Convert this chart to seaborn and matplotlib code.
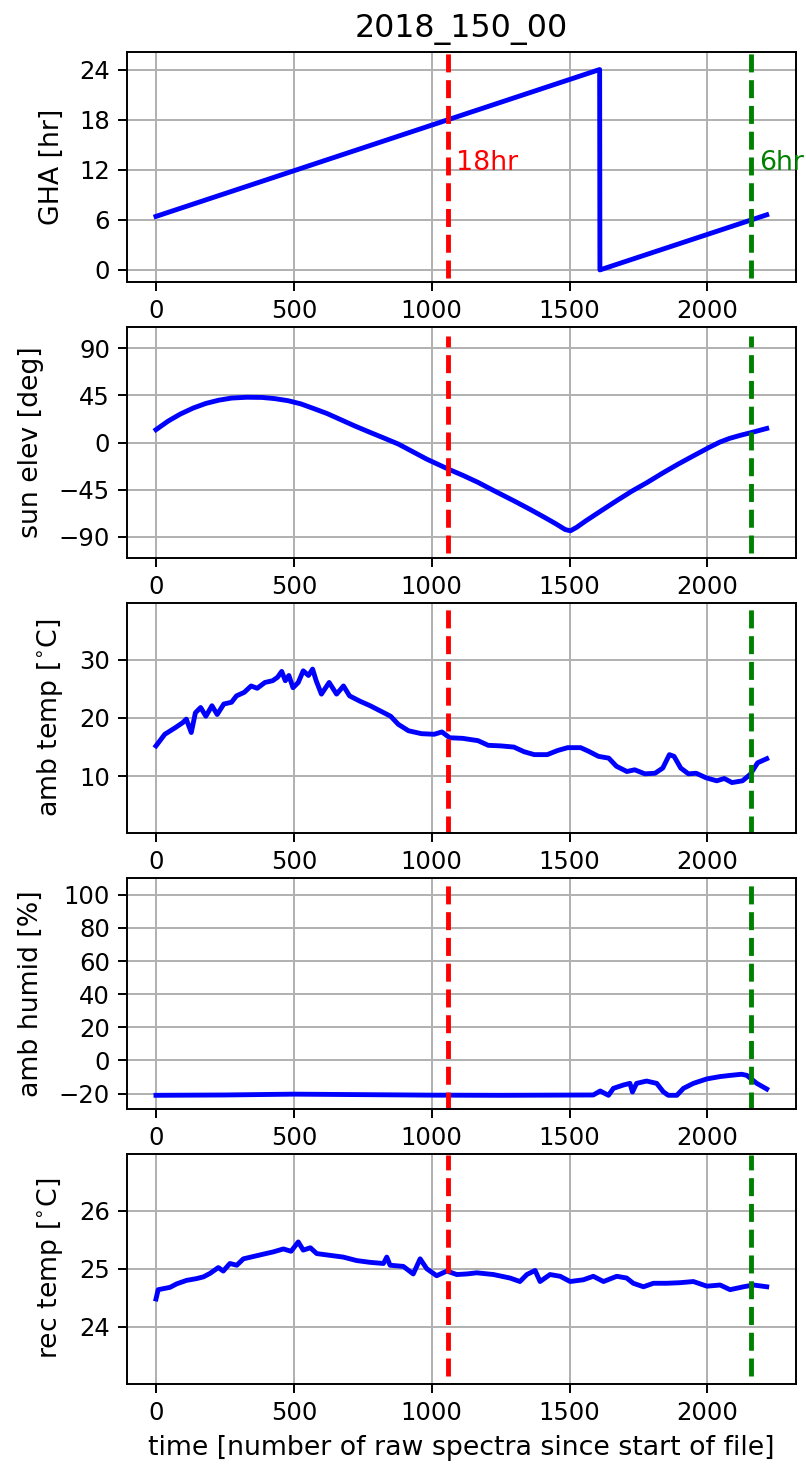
import matplotlib
matplotlib.use('Agg')
import matplotlib.pyplot as plt
import seaborn as sns

# sample index along the file
title = '2018_150_00'
xlabel = 'time [number of raw spectra since start of file]'

# GHA (linear ramp with wrap at 24 hr)
gha_x = [0, 1609, 1610, 2215]
gha_y = [6.41, 24.0, 0.0, 6.6]

# sun elevation [deg]
elev_x = [0, 44, 88, 135, 181, 228, 274, 330, 385, 430, 479, 525, 572, 620, 665,
          720, 777, 830, 879, 930, 982, 1060, 1115, 1168, 1230, 1298, 1355, 1410,
          1450, 1484, 1503, 1525, 1559, 1615, 1670, 1725, 1782, 1838, 1894, 1950,
          2006, 2045, 2080, 2120, 2158, 2215]
elev_y = [12.3, 20.5, 27.2, 33.0, 37.4, 40.5, 42.5, 43.3, 43.1, 42.0, 40.0, 37.0,
          32.5, 27.8, 22.5, 16.0, 9.7, 4.0, -1.4, -8.5, -15.8, -25.3, -31.5, -38.0,
          -46.5, -55.6, -63.5, -71.5, -77.5, -83.0, -84.2, -81.0, -74.7, -65.0,
          -55.6, -46.5, -38.0, -29.0, -20.5, -12.5, -4.6, 0.5, 4.0, 7.0, 9.5, 13.5]

# ambient temperature [C]
amb_x = [0, 32, 69, 97, 110, 128, 143, 162, 181, 203, 222, 246, 274, 292, 320, 345,
         367, 395, 423, 441, 456, 469, 482, 497, 516, 534, 553, 568, 581, 600, 628,
         655, 680, 702, 739, 777, 814, 851, 879, 916, 963, 1009, 1037, 1065, 1112,
         1168, 1205, 1251, 1298, 1335, 1372, 1419, 1456, 1493, 1540, 1568, 1605,
         1642, 1670, 1708, 1736, 1773, 1810, 1838, 1862, 1879, 1903, 1931, 1959,
         1996, 2034, 2061, 2089, 2127, 2155, 2182, 2215]
amb_y = [15.2, 17.2, 18.3, 19.2, 19.8, 17.5, 20.9, 21.8, 20.3, 22.1, 20.6, 22.4,
         22.7, 23.8, 24.4, 25.5, 25.1, 26.1, 26.4, 27.0, 28.0, 26.4, 27.3, 25.2,
         26.1, 28.1, 27.3, 28.4, 26.4, 24.1, 26.1, 24.1, 25.5, 23.8, 22.9, 22.1,
         21.2, 20.3, 18.9, 17.8, 17.3, 17.2, 17.6, 16.6, 16.5, 16.1, 15.3, 15.2,
         15.0, 14.2, 13.7, 13.7, 14.4, 14.9, 14.9, 14.3, 13.4, 13.1, 11.7, 10.8,
         11.1, 10.4, 10.5, 11.4, 13.7, 13.4, 11.4, 10.4, 10.5, 9.7, 9.2, 9.6, 8.9,
         9.2, 10.3, 12.3, 13.0]

# ambient humidity [%]
hum_x = [0, 250, 500, 750, 1000, 1250, 1586, 1611, 1641, 1659, 1695, 1719, 1728,
         1743, 1779, 1816, 1840, 1858, 1889, 1913, 1949, 1998, 2046, 2082, 2124,
         2143, 2179, 2215]
hum_y = [-21.0, -20.8, -20.3, -20.6, -20.9, -21.0, -20.8, -18.4, -21.0, -16.8,
         -14.8, -13.8, -19.0, -13.8, -12.4, -13.8, -18.9, -21.0, -21.0, -16.8,
         -13.8, -11.1, -9.7, -9.0, -8.3, -9.0, -13.8, -17.2]

# receiver temperature [C]
rec_x = [0, 8, 51, 75, 111, 147, 172, 196, 226, 244, 268, 293, 317, 353, 389, 426,
         462, 490, 516, 534, 560, 583, 631, 679, 728, 776, 825, 837, 849, 897, 933,
         958, 982, 1018, 1055, 1091, 1127, 1163, 1224, 1284, 1320, 1345, 1375, 1393,
         1429, 1466, 1502, 1550, 1586, 1623, 1671, 1707, 1731, 1768, 1804, 1852,
         1901, 1949, 1998, 2046, 2082, 2131, 2167, 2215]
rec_y = [24.48, 24.64, 24.68, 24.74, 24.80, 24.83, 24.86, 24.92, 25.02, 24.96,
         25.09, 25.06, 25.17, 25.21, 25.25, 25.29, 25.34, 25.30, 25.46, 25.32,
         25.36, 25.26, 25.23, 25.20, 25.14, 25.11, 25.09, 25.20, 25.06, 25.04,
         24.91, 25.17, 25.00, 24.88, 24.96, 24.90, 24.91, 24.93, 24.90, 24.84,
         24.78, 24.90, 24.97, 24.78, 24.90, 24.87, 24.78, 24.81, 24.87, 24.78,
         24.87, 24.84, 24.75, 24.69, 24.75, 24.75, 24.76, 24.78, 24.70, 24.72,
         24.64, 24.69, 24.72, 24.69]

# marker lines (18hr and 6hr GHA)
mark_x = [1060, 2158]
mark_colors = ['r', 'g']
mark_labels = ['18hr', '6hr']

series = [
    (gha_x, gha_y, 'GHA [hr]', (-1.5, 26.1), (-1.0, 26.0), [0, 6, 12, 18, 24]),
    (elev_x, elev_y, 'sun elev [deg]', (-110, 110), (-105, 102), [-90, -45, 0, 45, 90]),
    (amb_x, amb_y, r'amb temp [$^{\circ}$C]', (0.2, 39.8), (0, 40), None),
    (hum_x, hum_y, 'amb humid [%]', (-29, 110), (-30, 111), [-20, 0, 20, 40, 60, 80, 100]),
    (rec_x, rec_y, r'rec temp [$^{\circ}$C]', (23.02, 26.98), (23.15, 26.95), None),
]

fig, axes = plt.subplots(5, 1, figsize=(806 / 175, 1469 / 175), dpi=175)
fig.subplots_adjust(left=0.1576, right=0.9872, top=0.9646, bottom=0.0579, hspace=0.195)

for i, (ax, (xs, ys, lab, ylim, vspan, yt)) in enumerate(zip(axes, series)):
    sns.lineplot(x=xs, y=ys, ax=ax, color='b', lw=2, sort=False)
    for mx, mc in zip(mark_x, mark_colors):
        ax.plot([mx, mx], list(vspan), color=mc, ls='--', lw=2)
    if i == 0:
        for mx, mc, ml in zip(mark_x, mark_colors, mark_labels):
            ax.text(mx + 28, 12, ml, color=mc, fontsize=11)
    ax.set_xlim(-105, 2320)
    ax.set_ylim(*ylim)
    if yt is not None:
        ax.set_yticks(yt)
    ax.set_ylabel(lab, fontsize=11, labelpad=6)
    ax.grid(True)

axes[0].set_title(title, fontsize=13)
axes[-1].set_xlabel(xlabel, fontsize=11)

plt.savefig('out.png', dpi=175)
